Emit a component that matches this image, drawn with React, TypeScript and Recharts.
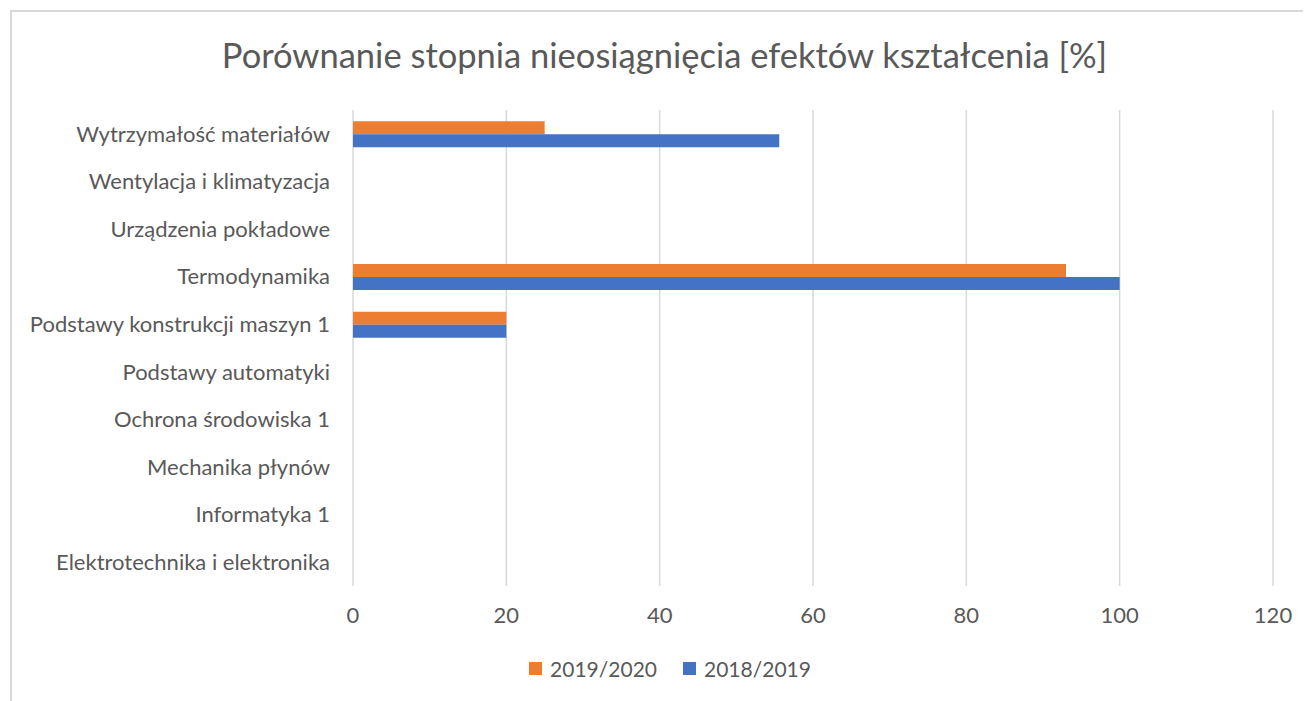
import { BarChart, Bar, XAxis, YAxis, CartesianGrid } from 'recharts';

const subjects = [
  'Wytrzymałość materiałów',
  'Wentylacja i klimatyzacja',
  'Urządzenia pokładowe',
  'Termodynamika',
  'Podstawy konstrukcji maszyn 1',
  'Podstawy automatyki',
  'Ochrona środowiska 1',
  'Mechanika płynów',
  'Informatyka 1',
  'Elektrotechnika i elektronika',
];

const year2019_2020 = [25, 0, 0, 93, 20, 0, 0, 0, 0, 0];
const year2018_2019 = [55.6, 0, 0, 100, 20, 0, 0, 0, 0, 0];

const xTicks = [0, 20, 40, 60, 80, 100, 120];

const series = [
  { key: 'y2020', name: '2019/2020', color: '#ED7D31' },
  { key: 'y2019', name: '2018/2019', color: '#4472C4' },
];

const data = subjects.map((name, i) => ({
  name,
  y2020: year2019_2020[i],
  y2019: year2018_2019[i],
}));

const FONT = 'Lato, "Open Sans", sans-serif';
const TEXT = '#595959';
const GRID = '#D9D9D9';

export default function App() {
  return (
    <div style={{ position: 'relative', width: 1303, height: 693, overflow: 'hidden', background: '#fff' }}>
      <div
        style={{
          position: 'absolute',
          left: 2,
          top: 2,
          width: 1400,
          height: 800,
          border: `2px solid ${GRID}`,
        }}
      />
      <div
        style={{
          position: 'absolute',
          left: 0,
          width: 1313,
          top: 26,
          textAlign: 'center',
          fontFamily: FONT,
          fontSize: 34.5,
          color: TEXT,
        }}
      >
        Porównanie stopnia nieosiągnięcia efektów kształcenia [%]
      </div>
      <div style={{ position: 'absolute', left: 0, top: 0 }}>
        <BarChart
          width={1303}
          height={693}
          data={data}
          layout="vertical"
          margin={{ top: 102, right: 38, left: 0, bottom: 0 }}
          barCategoryGap="23.7%"
          barGap={0}
        >
          <CartesianGrid horizontal={false} stroke={GRID} strokeWidth={1.5} />
          <XAxis
            type="number"
            domain={[0, 120]}
            ticks={xTicks}
            axisLine={false}
            tickLine={false}
            tickSize={0}
            tickMargin={21}
            tick={{ fontSize: 22, fill: TEXT, fontFamily: FONT }}
            interval={0}
            height={115}
          />
          <YAxis
            type="category"
            dataKey="name"
            width={345}
            axisLine={false}
            tickLine={false}
            tickSize={0}
            tickMargin={23}
            tick={{ fontSize: 22, fill: TEXT, fontFamily: FONT }}
            interval={0}
          />
          {series.map((s) => (
            <Bar key={s.key} dataKey={s.key} name={s.name} fill={s.color} isAnimationActive={false} />
          ))}
        </BarChart>
      </div>
      <div
        style={{
          position: 'absolute',
          top: 648,
          left: 0,
          width: 1324,
          display: 'flex',
          justifyContent: 'center',
          fontFamily: FONT,
          fontSize: 21,
          color: TEXT,
        }}
      >
        {series.map((s, i) => (
          <div key={s.key} style={{ display: 'flex', alignItems: 'center', marginLeft: i ? 26 : 0 }}>
            <span style={{ width: 13, height: 13, background: s.color, display: 'inline-block', marginRight: 8 }} />
            <span>{s.name}</span>
          </div>
        ))}
      </div>
    </div>
  );
}
